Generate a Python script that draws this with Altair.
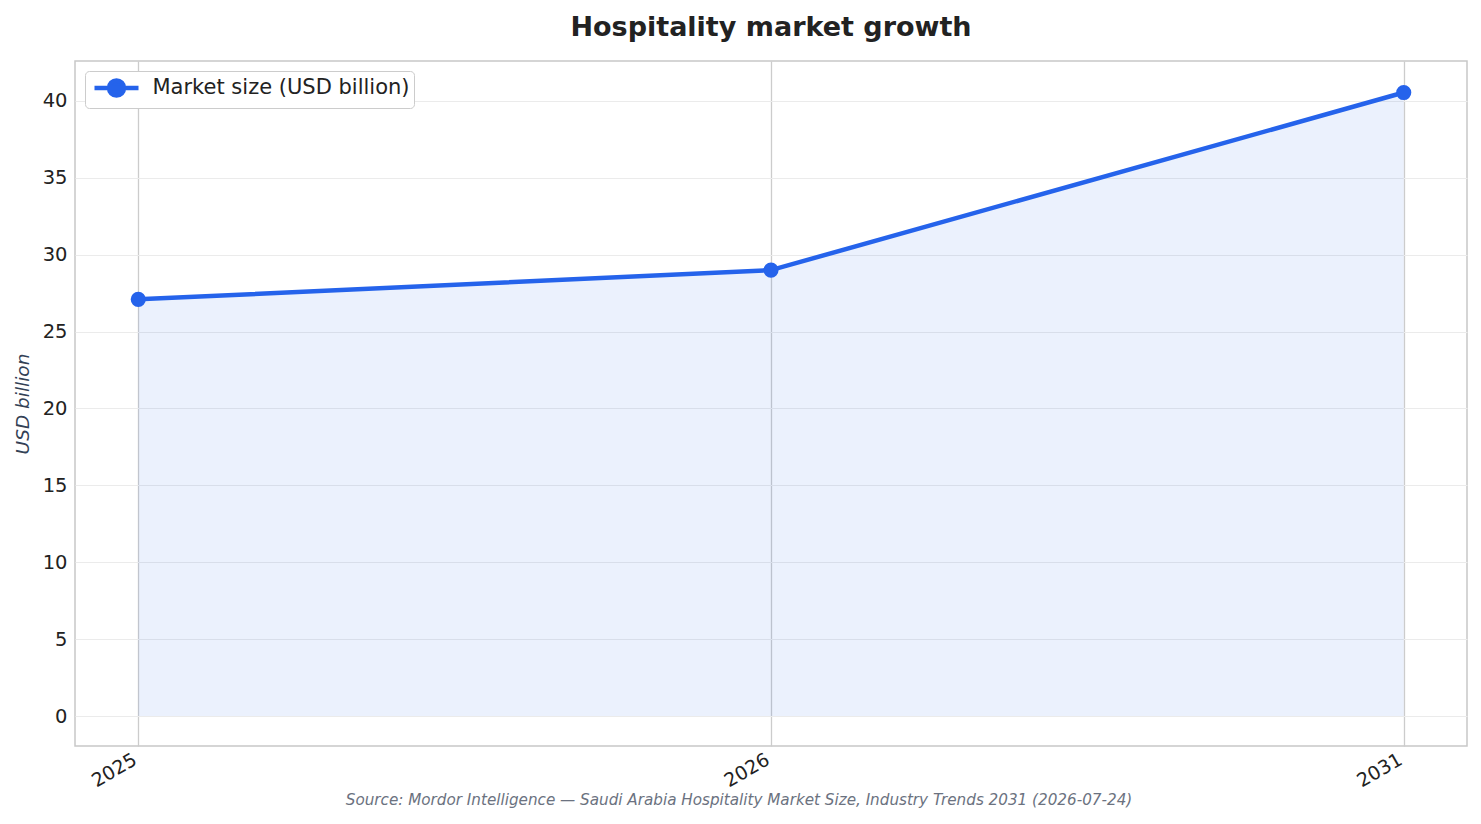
import altair as alt
import pandas as pd

# values
years = ["2025", "2026", "2031"]
market_size = [27.1, 29.0, 40.55]
series_name = "Market size (USD billion)"
y_ticks = [0, 5, 10, 15, 20, 25, 30, 35, 40]

title_text = "Hospitality market growth"
source_note = ("Source: Mordor Intelligence \u2014 Saudi Arabia Hospitality Market Size, "
               "Industry Trends 2031 (2026-07-24)")

df = pd.DataFrame({"year": years, "size": market_size, "series": series_name})
note_df = pd.DataFrame({"note": [source_note]})

W, H = 1392, 685
BLUE = "#2563eb"
FONT = "DejaVu Sans"

# legend glyph: a line with a dot in the middle (unit = 11px at symbolSize 484)
LEGEND_GLYPH = "M-2,0H2M0.68,0A0.68,0.68,0,1,1,-0.68,0A0.68,0.68,0,1,1,0.68,0Z"

x_enc = alt.X(
    "year:O",
    sort=years,
    scale=alt.Scale(type="point", padding=0.1),
    axis=alt.Axis(
        title=None, labelAngle=-30, labelAlign="right", labelBaseline="top",
        ticks=False, domain=False, grid=True, gridColor="#cccccc",
        gridWidth=1.3, labelFontSize=19, labelPadding=4, labelOffset=-8,
        labelColor="#222222",
    ),
)
y_enc = alt.Y(
    "size:Q",
    scale=alt.Scale(domain=[-1.95, 42.6], nice=False, zero=False),
    axis=alt.Axis(
        title="USD billion", values=y_ticks, ticks=False, domain=False,
        gridColor="#ebebeb", gridWidth=1, labelFontSize=19.5, labelPadding=8,
        labelColor="#222222", titleFontSize=18.5, titleFontStyle="italic",
        titleFontWeight="normal", titleColor="#334155", titlePadding=10,
    ),
)

base = alt.Chart(df)

area = base.mark_area(color=BLUE, opacity=0.09).encode(x=x_enc, y=y_enc)

line = base.mark_line(strokeWidth=4.5).encode(
    x=x_enc,
    y=y_enc,
    color=alt.Color(
        "series:N",
        scale=alt.Scale(range=[BLUE]),
        legend=alt.Legend(
            title=None, orient="top-left", offset=10, padding=3.5,
            strokeColor="#cccccc", fillColor="white", cornerRadius=4,
            labelFontSize=21, labelColor="#222222", labelFont=FONT,
            labelLimit=0, symbolType=LEGEND_GLYPH, symbolSize=484,
            symbolOffset=14.5, symbolStrokeWidth=4.5, symbolFillColor=BLUE,
            symbolStrokeColor=BLUE, symbolOpacity=1, labelOffset=22.5,
        ),
    ),
)

points = base.mark_circle(color=BLUE, size=230, opacity=1).encode(x=x_enc, y=y_enc)

note = alt.Chart(note_df).mark_text(
    font=FONT, fontSize=15.2, fontStyle="italic", color="#6b7280",
    align="center", baseline="middle",
).encode(text="note:N", x=alt.value(664), y=alt.value(739))

chart = alt.layer(area, line, points, note).properties(
    width=W,
    height=H,
    autosize=alt.AutoSizeParams(type="none"),
    padding={"left": 67, "top": 53, "right": 6, "bottom": 62},
    title=alt.TitleParams(
        title_text, anchor="middle", fontSize=27, fontWeight="bold",
        font=FONT, color="#222222", offset=19,
    ),
).configure_view(
    stroke="#c8c8c8", strokeWidth=1.5
).configure_axis(
    labelFont=FONT, titleFont=FONT
)

chart.save("out.html", embed_options={"renderer": "svg", "actions": False})
